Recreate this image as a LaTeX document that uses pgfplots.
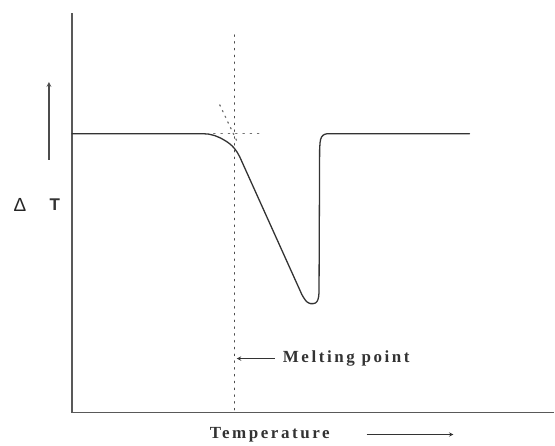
\documentclass[border=0pt]{standalone}
\usepackage{pgfplots}
\pgfplotsset{compat=1.18}
\usepackage{fontspec}
\setmainfont{Liberation Serif}
\newfontfamily\lbl[LetterSpace=15]{Liberation Serif}
\newfontfamily\lsans{Liberation Sans}
\begin{document}
\begin{tikzpicture}
\begin{axis}[
  scale only axis, width=483pt, height=400pt,
  xmin=0, xmax=483, ymin=0, ymax=400,
  axis x line=bottom, axis y line=left,
  axis line style={-, black!65, line width=1.3pt},
  ticks=none, clip=false,
]
\path (axis cs:-72,-33) rectangle (axis cs:483,413);
% DTA curve
\addplot[black!80, line width=1.3pt, line join=round, line cap=round] coordinates {
(0,279) (133,279) (137,278.7) (140,278) (143,277.2) (146,276) (149,274.7) (152,273) (155,271.2) (158,269) (160.5,266.8) (163,264) (165.5,260.5) (168,256)
(228,123) (230,118.5) (232,115) (233.5,112.8) (235,111) (237,109.7) (239,109) (241.5,109) (244,109.7) (245.3,111) (246.3,113) (247,116) (247.4,120)
(248,263) (248.4,270) (249,273.5) (250,276) (251.5,277.6) (253,278.5) (255,279) (398,279)
};
% construction lines
\addplot[black!70, line width=1.3pt, dash pattern=on 1.3pt off 5.5pt, line cap=round] coordinates {(163,378) (163,0)};
\addplot[black!55, line width=1.3pt, dash pattern=on 1.3pt off 6pt, line cap=round] coordinates {(142,279) (188,279)};
\addplot[black!55, line width=1.3pt, dash pattern=on 1.3pt off 5pt, line cap=round] coordinates {(148,308) (166,270)};
% annotations
\draw[-stealth, black!80, line width=1pt] (axis cs:203,54) -- (axis cs:165,54);
\node[anchor=west, font=\lbl\bfseries\fontsize{17}{17}\selectfont, text=black!80, inner sep=0pt] at (axis cs:211,54) {Melting point};
\node[font=\lbl\bfseries\fontsize{17}{17}\selectfont, text=black!80, inner sep=0pt] at (axis cs:198,-22) {Temperature};
\draw[-stealth, black!80, line width=1pt] (axis cs:295,-22) -- (axis cs:382,-22);
\draw[-stealth, black!70, line width=1.2pt] (axis cs:-23,253) -- (axis cs:-23,331);
\node[font=\lsans\fontsize{19}{19}\selectfont, text=black!85] at (axis cs:-52,208) {Δ};
\node[font=\lsans\bfseries\fontsize{17}{17}\selectfont, text=black!80] at (axis cs:-17,208) {T};
\end{axis}
\end{tikzpicture}
\end{document}
